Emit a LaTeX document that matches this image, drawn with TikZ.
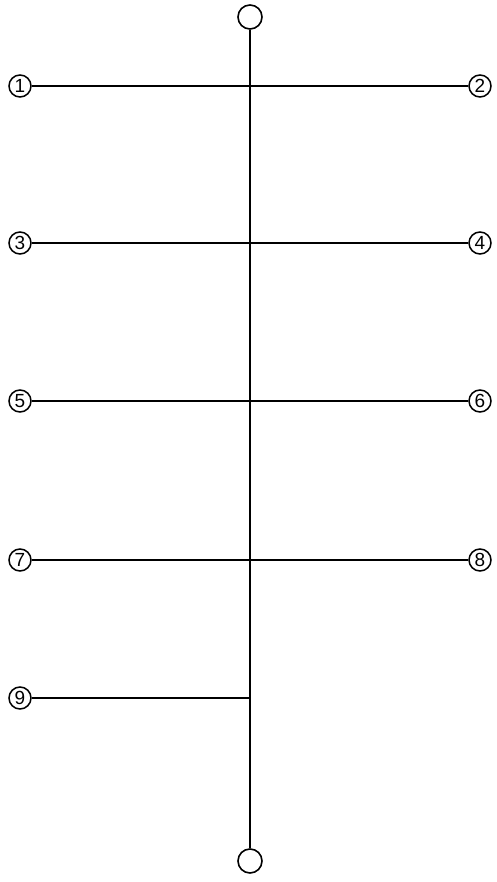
\documentclass[tikz,border=0pt]{standalone}
\usepackage{fontspec}
\setmainfont{Liberation Sans}
\usetikzlibrary{positioning}
\tikzset{
  every node/.style={font=\fontsize{19}{19}\selectfont},
  num/.style={
    draw=black, circle, line width=1.5pt, fill=white,
    minimum size=22pt, inner sep=0pt, text=black
  },
  term/.style={
    draw=black, circle, line width=1.6pt, fill=white,
    minimum size=24pt, inner sep=0pt
  },
  wire/.style={line width=2.4pt, black},
}
\begin{document}
\begin{tikzpicture}[x=1pt, y=-1pt]
  \useasboundingbox (0,0) rectangle (496,882);

  % Terminals at both ends of the trunk
  \node[term] (top) at (250,17) {};
  \node[term] (bot) at (250,861) {};

  % Junctions on the trunk
  \coordinate (j1) at (250,86);
  \coordinate (j2) at (250,243);
  \coordinate (j3) at (250,401);
  \coordinate (j4) at (250,560);
  \coordinate (j5) at (250,698);

  % Numbered ends
  \node[num] (n1) at (20,86) {1};
  \node[num] (n2) at (480,86) {2};
  \node[num] (n3) at (20,243) {3};
  \node[num] (n4) at (480,243) {4};
  \node[num] (n5) at (20,401) {5};
  \node[num] (n6) at (480,401) {6};
  \node[num] (n7) at (20,560) {7};
  \node[num] (n8) at (480,560) {8};
  \node[num] (n9) at (20,698) {9};

  % Trunk
  \draw[wire] (top) -- (bot);

  % Branches
  \draw[wire] (n1) -- (n2);
  \draw[wire] (n3) -- (n4);
  \draw[wire] (n5) -- (n6);
  \draw[wire] (n7) -- (n8);
  \draw[wire] (n9) -- (j5);
\end{tikzpicture}
\end{document}
